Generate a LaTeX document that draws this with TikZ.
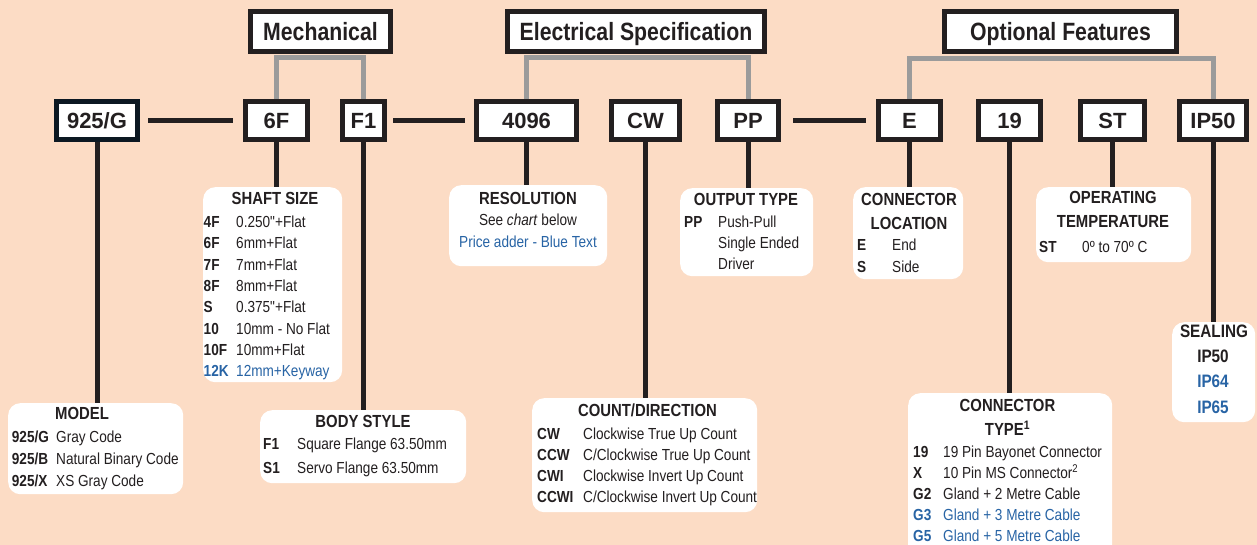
\documentclass[tikz,border=0pt]{standalone}
\usepackage{fontspec}
\setmainfont{Liberation Sans}
\newfontfamily\nfont[FakeStretch=0.85]{Liberation Sans}
\usetikzlibrary{calc}
\definecolor{bg}{RGB}{252,220,197}
\definecolor{ink}{RGB}{35,31,32}
\definecolor{navy}{RGB}{12,24,34}
\definecolor{glinkc}{RGB}{155,155,155}
\definecolor{blu}{RGB}{40,100,165}
\newcommand{\itm}[3]{\makebox[#1][l]{\bfseries #2}#3}
\tikzset{
  hdr/.style={draw=ink, line width=5pt, fill=white, minimum height=40pt, inner sep=0pt,
    text height=18pt, text depth=0pt, font={\nfont\fontsize{25}{30}\selectfont\bfseries}, text=ink},
  codebox/.style={draw=ink, line width=5pt, fill=white, minimum height=38pt, inner sep=0pt,
    text height=15.8pt, text depth=0pt, font={\fontsize{22}{26}\selectfont\bfseries}, text=ink},
  glink/.style={draw=glinkc, line width=5pt},
  blink/.style={draw=ink, line width=5pt},
  info/.style={fill=white, rounded corners=12pt, inner sep=0pt, anchor=north west},
  ttl/.style={anchor=base, inner sep=0pt, font={\nfont\fontsize{17.5}{24}\selectfont\bfseries}, text=ink},
  bodytxt/.style={anchor=base west, inner sep=0pt, font={\nfont\fontsize{16}{21.3}\selectfont}, text=ink},
}
\begin{document}
\begin{tikzpicture}[x=1pt,y=-1pt]
\useasboundingbox (0,0) rectangle (1257,545);
\fill[bg] (0,0) rectangle (1257,545);

% headers
\node[hdr, minimum width=140pt] (mech) at (320.5,31.5) {Mechanical};
\node[hdr, minimum width=257pt] (elec) at (636,31.5) {Electrical Specification};
\node[hdr, minimum width=232pt] (opt) at (1060.5,31.5) {Optional Features};

% code boxes
\node[codebox, draw=navy, minimum width=81pt] (model) at (97,120.5) {925/G};
\node[codebox, minimum width=62pt] (shaft) at (276.5,120.5) {6F};
\node[codebox, minimum width=42pt] (body) at (363.5,120.5) {F1};
\node[codebox, minimum width=100pt] (res) at (526.5,120.5) {4096};
\node[codebox, minimum width=68pt] (cw) at (645.5,120.5) {CW};
\node[codebox, minimum width=61pt] (pp) at (748,120.5) {PP};
\node[codebox, minimum width=62pt] (loc) at (909.5,120.5) {E};
\node[codebox, minimum width=62pt] (ctype) at (1009.5,120.5) {19};
\node[codebox, minimum width=64pt] (temp) at (1112.5,120.5) {ST};
\node[codebox, minimum width=67pt] (seal) at (1213,120.5) {IP50};

% gray brackets
\draw[glink] (shaft.north) |- ($(mech.south)+(0,3.5)$) -| (body.north);
\draw[glink] (res.north) |- ($(elec.south)+(0,3.5)$) -| (pp.north);
\draw[glink] (loc.north) |- ($(opt.south)+(0,5)$) -| (seal.north);

% black horizontal links
\draw[blink] ([xshift=8pt]model.east) -- ([xshift=-10pt]shaft.west);
\draw[blink] ([xshift=6pt]body.east) -- ([xshift=-9pt]res.west);
\draw[blink] ([xshift=12pt]pp.east) -- ([xshift=-10pt]loc.west);

% info boxes
\node[info, minimum width=139pt, minimum height=195pt] (shaftbox) at (203,187) {};
\node[info, minimum width=175pt, minimum height=91pt] (modelbox) at (8,403) {};
\node[info, minimum width=206pt, minimum height=73pt] (bodybox) at (260,410) {};
\node[info, minimum width=158pt, minimum height=81pt] (resbox) at (449,185) {};
\node[info, minimum width=133pt, minimum height=88pt] (ppbox) at (680,188) {};
\node[info, minimum width=110pt, minimum height=92pt] (locbox) at (853,187) {};
\node[info, minimum width=155pt, minimum height=75pt] (tempbox) at (1036,187) {};
\node[info, minimum width=225pt, minimum height=114pt] (cwbox) at (532,398) {};
\node[info, minimum width=204pt, minimum height=170pt] (ctypebox) at (908,393) {};
\node[info, minimum width=83pt, minimum height=100pt] (sealbox) at (1172,322) {};

% vertical links
\draw[blink] (model.south) -- (model.south |- modelbox.north);
\draw[blink] (shaft.south) -- (shaft.south |- shaftbox.north);
\draw[blink] (body.south) -- (body.south |- bodybox.north);
\draw[blink] (res.south) -- (res.south |- resbox.north);
\draw[blink] (cw.south) -- (cw.south |- cwbox.north);
\draw[blink] (pp.south) -- (pp.south |- ppbox.north);
\draw[blink] (loc.south) -- (loc.south |- locbox.north);
\draw[blink] (ctype.south) -- (ctype.south |- ctypebox.north);
\draw[blink] (temp.south) -- (temp.south |- tempbox.north);
\draw[blink] (seal.south) -- (seal.south |- sealbox.north);

% SHAFT SIZE
\node[ttl] (shaftttl) at (275,205) {SHAFT SIZE};
\node[bodytxt] (shafttxt) at (203.5,227.7) {\begin{tabular}[t]{@{}l@{}}
\itm{32.5pt}{4F}{0.250"+Flat}\\
\itm{32.5pt}{6F}{6mm+Flat}\\
\itm{32.5pt}{7F}{7mm+Flat}\\
\itm{32.5pt}{8F}{8mm+Flat}\\
\itm{32.5pt}{S}{0.375"+Flat}\\
\itm{32.5pt}{10}{10mm - No Flat}\\
\itm{32.5pt}{10F}{10mm+Flat}\\
\color{blu}\itm{32.5pt}{12K}{12mm+Keyway}
\end{tabular}};

% MODEL
\node[ttl] (modelttl) at (82,419.3) {MODEL};
\node[bodytxt, font={\nfont\fontsize{16}{22}\selectfont}] (modeltxt) at (11.7,442.7) {\begin{tabular}[t]{@{}l@{}}
\itm{44.3pt}{925/G}{Gray Code}\\
\itm{44.3pt}{925/B}{Natural Binary Code}\\
\itm{44.3pt}{925/X}{XS Gray Code}
\end{tabular}};

% BODY STYLE
\node[ttl] (bodyttl) at (363,427.3) {BODY STYLE};
\node[bodytxt, font={\nfont\fontsize{16}{24}\selectfont}] (bodytxt) at (263,449.5) {\begin{tabular}[t]{@{}l@{}}
\itm{34pt}{F1}{Square Flange 63.50mm}\\
\itm{34pt}{S1}{Servo Flange 63.50mm}
\end{tabular}};

% RESOLUTION
\node[ttl] (resttl) at (528,204.3) {RESOLUTION};
\node[bodytxt, anchor=base, font={\nfont\fontsize{16}{22}\selectfont}] (restxt) at (528,225.7) {\begin{tabular}[t]{@{}c@{}}
See \textit{chart} below\\
\color{blu}Price adder - Blue Text
\end{tabular}};

% OUTPUT TYPE
\node[ttl] (ppttl) at (746,205.3) {OUTPUT TYPE};
\node[bodytxt, font={\nfont\fontsize{16}{21}\selectfont}] (pptxt) at (684,227.7) {\begin{tabular}[t]{@{}l@{}}
\itm{34pt}{PP}{Push-Pull}\\
\itm{34pt}{}{Single Ended}\\
\itm{34pt}{}{Driver}
\end{tabular}};

% CONNECTOR LOCATION
\node[ttl] (locttl) at (909,205.3) {\begin{tabular}[t]{@{}c@{}}CONNECTOR\\LOCATION\end{tabular}};
\node[bodytxt, font={\nfont\fontsize{16}{22}\selectfont}] (loctxt) at (857,250.7) {\begin{tabular}[t]{@{}l@{}}
\itm{35pt}{E}{End}\\
\itm{35pt}{S}{Side}
\end{tabular}};

% OPERATING TEMPERATURE
\node[ttl] (tempttl) at (1113,203.3) {\begin{tabular}[t]{@{}c@{}}OPERATING\\TEMPERATURE\end{tabular}};
\node[bodytxt] (temptxt) at (1039,252.7) {\itm{43pt}{ST}{0º to 70º C}};

% COUNT/DIRECTION
\node[ttl] (cwttl) at (647.5,416.3) {COUNT/DIRECTION};
\node[bodytxt] (cwtxt) at (537,439) {\begin{tabular}[t]{@{}l@{}}
\itm{46pt}{CW}{Clockwise True Up Count}\\
\itm{46pt}{CCW}{C/Clockwise True Up Count}\\
\itm{46pt}{CWI}{Clockwise Invert Up Count}\\
\itm{46pt}{CCWI}{C/Clockwise Invert Up Count}
\end{tabular}};

% CONNECTOR TYPE
\node[ttl] (ctypettl) at (1007.5,411.3) {\begin{tabular}[t]{@{}c@{}}CONNECTOR\\TYPE\textsuperscript{1}\end{tabular}};
\node[bodytxt, font={\nfont\fontsize{16}{21}\selectfont}] (ctypetxt) at (913,457.7) {\begin{tabular}[t]{@{}l@{}}
\itm{30pt}{19}{19 Pin Bayonet Connector}\\
\itm{30pt}{X}{10 Pin MS Connector\textsuperscript{2}}\\
\itm{30pt}{G2}{Gland + 2 Metre Cable}\\
\color{blu}\itm{30pt}{G3}{Gland + 3 Metre Cable}\\
\color{blu}\itm{30pt}{G5}{Gland + 5 Metre Cable}
\end{tabular}};

% SEALING
\node[ttl, font={\nfont\fontsize{18}{25}\selectfont\bfseries}] (sealttl) at (1214,337) {SEALING};
\node[ttl, font={\nfont\fontsize{18}{25.5}\selectfont\bfseries}] (sealtxt) at (1213,362) {\begin{tabular}[t]{@{}c@{}}
IP50\\
\color{blu}IP64\\
\color{blu}IP65
\end{tabular}};
\end{tikzpicture}
\end{document}
